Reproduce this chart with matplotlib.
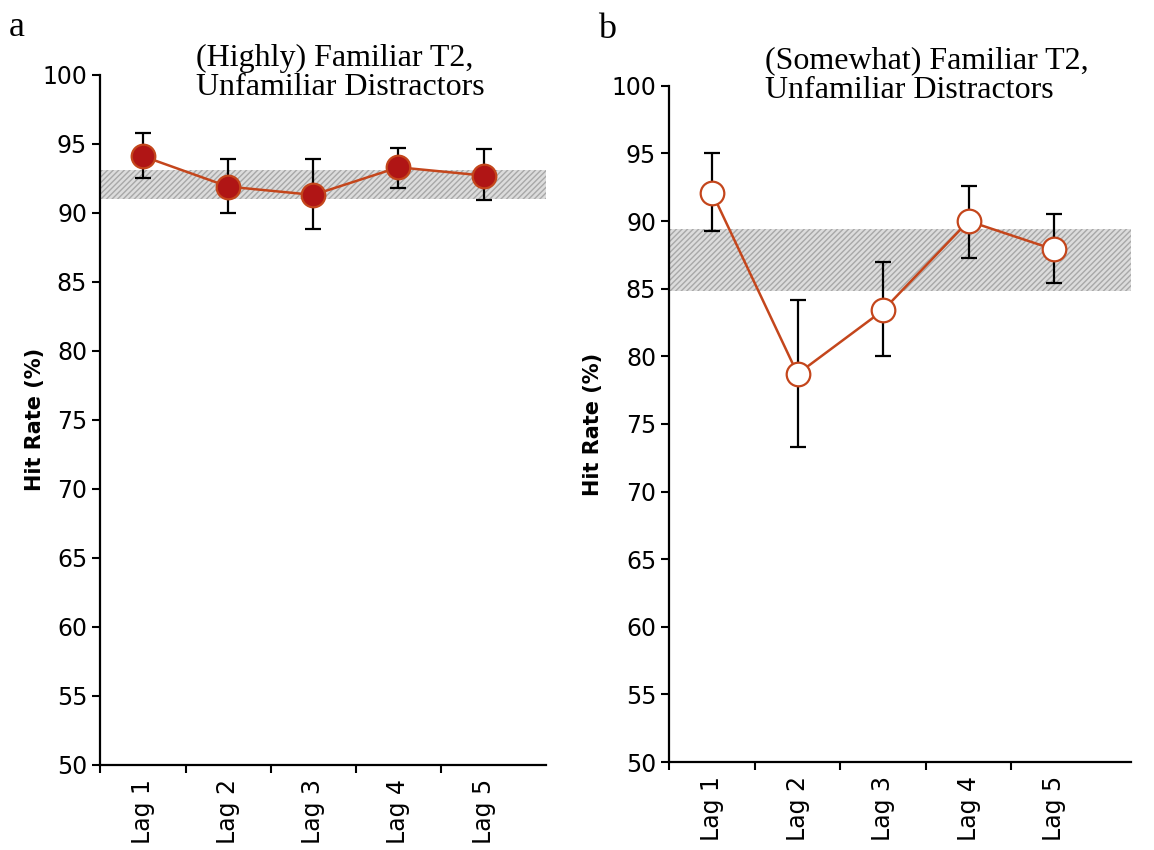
import numpy as np
from matplotlib import pyplot as plt

lags = ['Lag 1', 'Lag 2', 'Lag 3', 'Lag 4', 'Lag 5']

# panel a: (highly) familiar T2
hit_a = [94.1, 91.9, 91.3, 93.3, 92.7]
hi_a = [95.8, 93.9, 93.9, 94.7, 94.6]
lo_a = [92.5, 90.0, 88.8, 91.8, 90.9]
band_a = [91.0, 93.1]

# panel b: (somewhat) familiar T2
hit_b = [92.1, 78.7, 83.4, 90.0, 87.9]
hi_b = [95.0, 84.2, 87.0, 92.6, 90.5]
lo_b = [89.3, 73.3, 80.0, 87.3, 85.4]
band_b = [84.8, 89.4]

titles = ['(Highly) Familiar T2,\nUnfamiliar Distractors',
          '(Somewhat) Familiar T2,\nUnfamiliar Distractors']

line_col = '#c4461c'
serif = 'Liberation Serif'

fig = plt.figure(figsize=(11.54, 8.5), dpi=100)
ax_a = fig.add_axes([0.087, 0.100, 0.386, 0.812])
ax_b = fig.add_axes([0.580, 0.1035, 0.400, 0.7955])


def draw_panel(ax, hit, hi, lo, band, filled, xmax, pad):
    x = np.arange(len(lags)) + 0.5
    hit = np.array(hit)
    yerr = [hit - np.array(lo), np.array(hi) - hit]
    ax.axhspan(band[0], band[1], xmin=0, xmax=1, facecolor='#dcdcdc',
               edgecolor='#a8a8a8', hatch='//////', linewidth=0, zorder=1)
    ax.errorbar(x, hit, yerr=yerr, fmt='none', ecolor='black',
                elinewidth=1.6, capsize=6, capthick=1.6, zorder=2)
    ax.plot(x, hit, color=line_col, lw=1.8, marker='o', markersize=17,
            markerfacecolor='#b01515' if filled else 'white',
            markeredgecolor=line_col, markeredgewidth=1.6, zorder=3)
    ax.set_xlim(0, xmax)
    ax.set_ylim(50, 100)
    ax.set_yticks(range(50, 101, 5))
    # boundary ticks between lags, labels in the middle
    ax.set_xticks(range(0, 5), minor=False)
    ax.set_xticklabels([])
    ax.set_xticks(x, minor=True)
    ax.set_xticklabels(lags, minor=True, rotation=90, fontsize=17)
    ax.tick_params(axis='x', which='minor', length=0, pad=10)
    ax.tick_params(axis='x', which='major', length=6, width=1.5, direction='out')
    ax.tick_params(axis='y', length=6, width=1.5, labelsize=17, direction='out')
    for s in ['top', 'right']:
        ax.spines[s].set_visible(False)
    for s in ['left', 'bottom']:
        ax.spines[s].set_linewidth(1.6)
    ax.set_ylabel('Hit Rate (%)', fontsize=15, fontweight='bold', labelpad=pad)
    return ax


draw_panel(ax_a, hit_a, hi_a, lo_a, band_a, True, 5.23, -2)
draw_panel(ax_b, hit_b, hi_b, lo_b, band_b, False, 5.4, 6)

fig.text(0.170, 0.880, titles[0], family=serif, fontsize=23,
         va='bottom', ha='left', linespacing=1.0)
fig.text(0.663, 0.877, titles[1], family=serif, fontsize=23,
         va='bottom', ha='left', linespacing=1.0)

fig.text(0.008, 0.958, 'a', family=serif, fontsize=26)
fig.text(0.518, 0.955, 'b', family=serif, fontsize=26)

plt.savefig('out.png', dpi=100)
